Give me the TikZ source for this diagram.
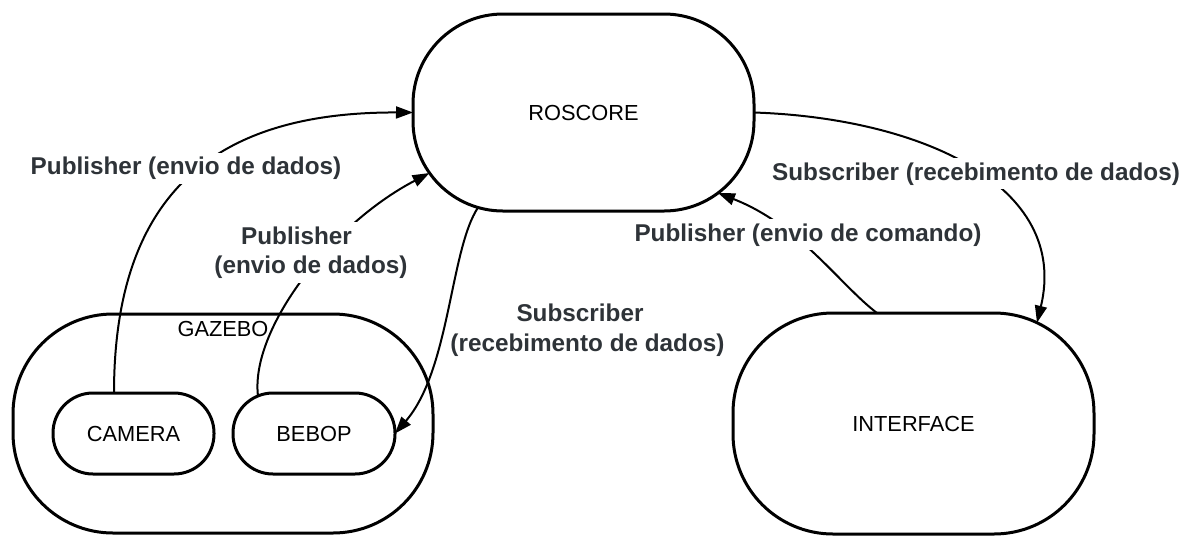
\documentclass[tikz,border=0pt]{standalone}
\usepackage{fontspec}
\setmainfont{Liberation Sans}
\usetikzlibrary{arrows.meta,calc}
\definecolor{lblgray}{RGB}{46,51,56}
\begin{document}
\begin{tikzpicture}[x=1pt,y=-1pt,
  proc/.style={draw, line width=3pt, rectangle, inner sep=0pt, outer sep=0pt,
    font=\fontsize{21.8}{26}\selectfont},
  title/.style={inner sep=0pt, font=\fontsize{21.8}{26}\selectfont},
  conn/.style={line width=2pt, -{Triangle[length=17pt,width=12pt]}},
  plainconn/.style={line width=2pt},
  lbl/.style={fill=white, inner sep=4pt, text=lblgray, align=center,
    font=\bfseries\fontsize{24.3}{29.5}\selectfont},
  lblnofill/.style={lbl, fill=none}]
\useasboundingbox (0,0) rectangle (1200,550);

% shapes
\node[proc, minimum width=420pt, minimum height=219pt, rounded corners=100pt] (gazebo) at (223,423.5) {};
\node[title] (gazebotitle) at (223,329) {GAZEBO};
\node[proc, minimum width=161pt, minimum height=81pt, rounded corners=40pt] (camera) at (133.5,433.5) {CAMERA};
\node[proc, minimum width=162pt, minimum height=81pt, rounded corners=40pt] (bebop) at (314,433.5) {BEBOP};
\node[proc, minimum width=341pt, minimum height=197pt, rounded corners=90pt] (roscore) at (583.5,112.5) {ROSCORE};
\node[proc, minimum width=361pt, minimum height=221pt, rounded corners=100pt] (interface) at (913.5,423.5) {INTERFACE};

% connectors
\draw[conn] ($(camera.north)+(-19.5,0)$) .. controls (114,180) and (230,112) .. (roscore.west);
\draw[conn] ($(bebop.north west)+(25,3)$) .. controls (250,330) and (330,225) .. ($(roscore.west)+(16.5,60.5)$);
\draw[conn] ($(roscore.south west)+(65,-3.5)$) .. controls (450,250) and (450,370) .. (bebop.east);
\draw[conn] (roscore.east) .. controls (920,118) and (1070,185) .. ($(interface.north east)+(-57,9.7)$);
\draw[conn] ($(interface.north)+(-36.5,0)$) .. controls (840,285) and (800,225) .. ($(roscore.south east)+(-36,-18)$);

% labels
\node[lbl, anchor=base] (l1) at (186,174.5) {Publisher (envio de dados)};
\node[lbl] (l2) at (311,252.5) {Publisher\hspace*{29pt}\\(envio de dados)};
\node[lblnofill] (l3) at (587.5,330) {Subscriber\hspace*{15pt}\\(recebimento de dados)};
\node[lbl, anchor=base] (l4) at (976,180) {Subscriber (recebimento de dados)};
\node[lbl, anchor=base] (l5) at (808,241) {Publisher (envio de comando)};
\end{tikzpicture}
\end{document}
